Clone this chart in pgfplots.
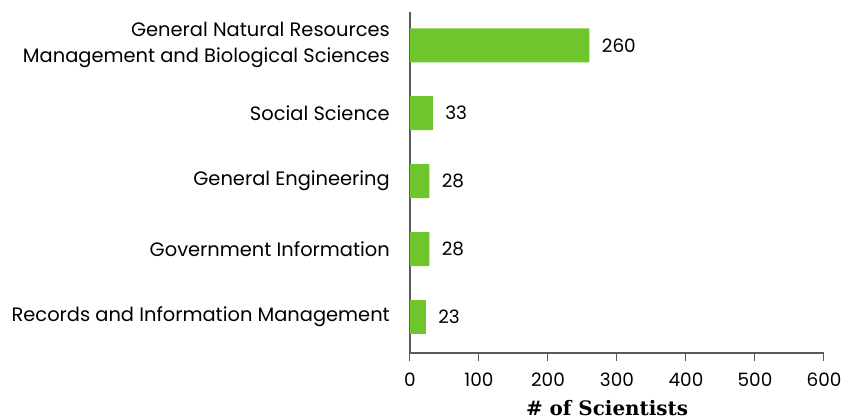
\documentclass[border=0pt]{standalone}
\usepackage{pgfplots}
\pgfplotsset{compat=1.18}
\usepackage{fontspec}
\setmainfont{Poppins}
\newfontfamily\titlefont{DejaVu Serif}
\definecolor{barGreen}{HTML}{6EC62C}
\definecolor{axisGray}{HTML}{5A5A5A}

\begin{document}
\begin{tikzpicture}
\begin{axis}[
    name=ax,
    xbar,
    scale only axis,
    width=414bp, height=341bp,
    xmin=0, xmax=600,
    ymin=-0.53, ymax=4.49,
    bar width=0.5,
    xtick={0,100,200,300,400,500,600},
    ytick={0,1,2,3,4},
    yticklabels={Records and Information Management,Government Information,General Engineering,Social Science,{General Natural Resources\\Management and Biological Sciences}},
    axis x line*=bottom, axis y line*=left,
    axis line style={-, draw=axisGray, line width=1.2pt},
    tick align=outside,
    major tick length=8bp,
    xtick style={draw=axisGray, line width=1pt},
    ytick style={draw=none},
    /pgf/number format/assume math mode=true,
    x tick label style={font=\fontsize{18.5}{20}\selectfont, inner sep=0pt, yshift=-12bp},
    y tick label style={font=\fontsize{19.5}{26}\selectfont, align=right, inner sep=0pt, xshift=-12bp},
    xlabel={\# of Scientists},
    xlabel style={font=\titlefont\bfseries\fontsize{20}{22}\selectfont, at={(axis description cs:0.476,0)}, anchor=base, inner sep=0pt, yshift=-62bp},
    nodes near coords,
    nodes near coords align={horizontal},
    every node near coord/.append style={font=\fontsize{18.5}{20}\selectfont, black, xshift=9bp},
]
\addplot[fill=barGreen, draw=none] coordinates {(23,0) (28,1) (28,2) (33,3) (260,4)};
\end{axis}
\pgfresetboundingbox
\path[use as bounding box] ([xshift=-410bp,yshift=-66bp]ax.south west) rectangle ([xshift=433bp,yshift=353bp]ax.south west);
\end{tikzpicture}
\end{document}
